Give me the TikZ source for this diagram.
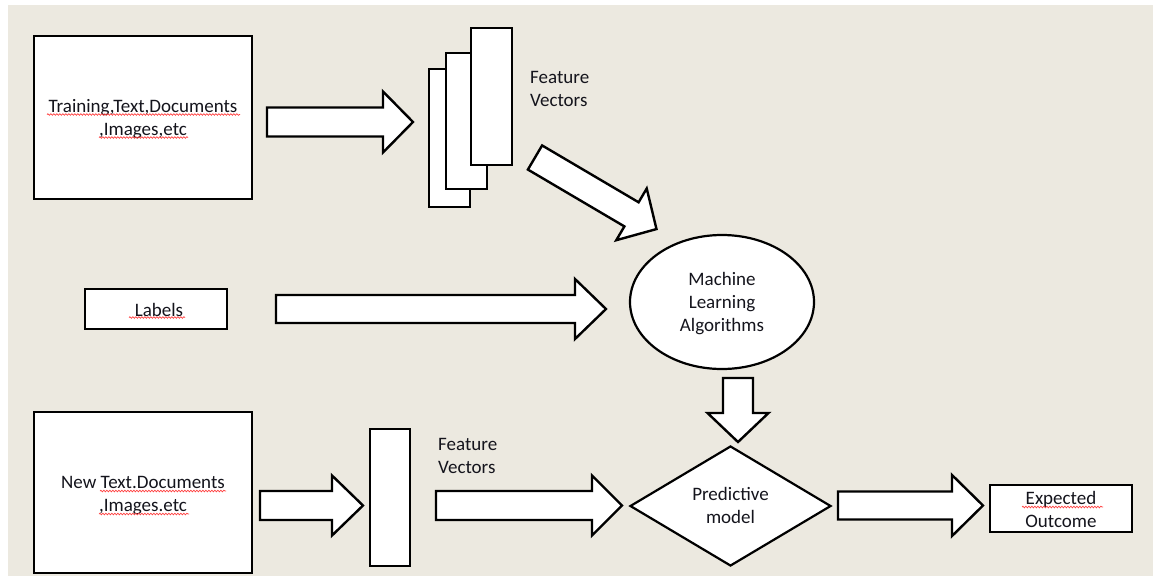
\documentclass[tikz,border=0pt]{standalone}
\usepackage{fontspec}
\setmainfont{Carlito}
\usetikzlibrary{shapes.geometric,decorations.pathmorphing}
\definecolor{bgc}{RGB}{236,233,224}
\definecolor{txtc}{RGB}{20,20,28}
\newcommand\blockarr[7]{%
  \draw[blockarrow, shift={(#1,#2)}, rotate=#3]
    (0,-#5) -- ({#4-#7},-#5) -- ({#4-#7},-#6) -- (#4,0) -- ({#4-#7},#6) -- ({#4-#7},#5) -- (0,#5) -- cycle;}
\tikzset{
  box/.style={draw, rectangle, line width=2.6pt, fill=white, inner sep=0pt},
  vecbox/.style={draw, rectangle, line width=2.6pt, fill=white, inner sep=0pt},
  blockarrow/.style={draw, line width=2.4pt, fill=white, line join=miter},
  lbl/.style={inner sep=0pt, align=left, font=\fontsize{19}{23}\selectfont, text=txtc},
  ctxt/.style={lbl, align=center},
  squig/.style={draw=red!75, line width=0.7pt, decorate, decoration={snake, amplitude=0.8pt, segment length=3pt}}
}
\begin{document}
\begin{tikzpicture}[x=1pt,y=-1pt]
\useasboundingbox (0,0) rectangle (1153,576);
\fill[bgc] (8,5) rectangle (1153,576);

% training box
\node[box, minimum width=218, minimum height=163] (train) at (143,117.5) {};
\node[ctxt] (traintext) at ([yshift=-2pt]train.center) {Training,Text,Documents\\,Images,etc};
% feature vector stack
\node[vecbox, minimum width=41, minimum height=138] (fvA) at (449.5,138) {};
\node[vecbox, minimum width=41, minimum height=136] (fvB) at (466.5,121) {};
\node[vecbox, minimum width=41, minimum height=137] (fvC) at (491.5,96.5) {};
\node[lbl, anchor=west] (fvlab) at (530,88.5) {Feature\\Vectors};

% labels
\node[box, minimum width=142, minimum height=40] (labels) at (156,309) {};
\node[ctxt] (labelstext) at ([xshift=3pt,yshift=-1pt]labels.center) {Labels};

% ML ellipse
\node[ellipse, draw, line width=2.2pt, fill=white, minimum width=184, minimum height=134, inner sep=0pt] (ml) at (722,302) {};
\node[ctxt] (mltext) at ([yshift=-2pt]ml.center) {Machine\\Learning\\Algorithms};

% predictive model diamond
\node[diamond, draw, line width=2.2pt, fill=white, minimum width=201, minimum height=120, inner sep=0pt] (pm) at (730.5,506) {};
\node[ctxt] (pmtext) at ([yshift=0.5pt]pm.center) {Predictive\\model};

% new docs box
\node[box, minimum width=218, minimum height=161] (newdoc) at (143,492.5) {};
\node[ctxt] (newtext) at ([yshift=-3pt]newdoc.center) {New Text.Documents\\,Images.etc};
\node[vecbox, minimum width=40, minimum height=137] (fv2) at (390,497.5) {};
\node[lbl, anchor=west] (fv2lab) at (438,455.5) {Feature\\Vectors};

% expected outcome
\node[box, minimum width=142, minimum height=47] (exp) at (1061,508.5) {};
\node[ctxt] (exptext) at ([yshift=-1pt]exp.center) {Expected\\Outcome};

% block arrows
\blockarr{267}{122}{0}{146}{14.5}{30.5}{30}
\blockarr{535}{157.5}{-30.5}{141}{14}{30}{29}
\blockarr{276}{309}{0}{330}{14}{30}{31}
\blockarr{738}{378}{-90}{64}{15}{30.5}{29}
\blockarr{260}{505.5}{0}{103}{14.5}{30}{31}
\blockarr{436}{505.5}{0}{186}{14.5}{30}{30}
\blockarr{838}{505.5}{0}{145}{14}{30.5}{31}

% spell-check squiggles
\draw[squig] (47,114.5) -- (240,114.5);
\draw[squig] (99,137.5) -- (188,137.5);
\draw[squig] (129,317.5) -- (185,317.5);
\draw[squig] (100,491) -- (226,491);
\draw[squig] (99,514) -- (189,514);
\draw[squig] (1022,507) -- (1103,507);
\end{tikzpicture}
\end{document}
